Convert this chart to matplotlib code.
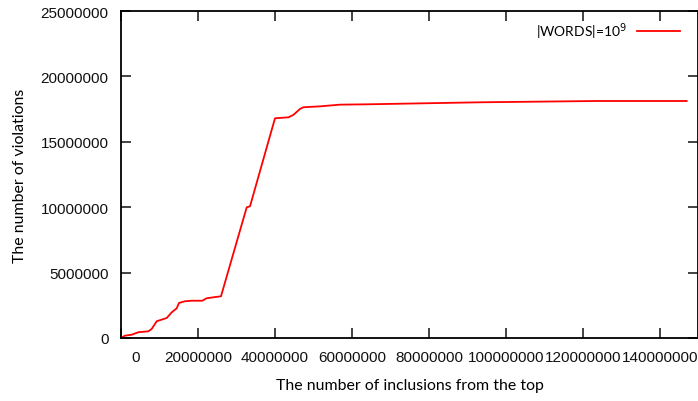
import matplotlib
matplotlib.use("Agg")
import matplotlib.pyplot as plt
import matplotlib.transforms as mtransforms
from matplotlib.ticker import FixedLocator

# values
inclusions = [0, 1.04e6, 2.78e6, 4.49e6, 7.09e6, 7.97e6, 9.27e6, 11.87e6, 13.17e6,
              14.47e6, 15.06e6, 16.62e6, 18.36e6, 21.12e6, 22.26e6, 25.97e6,
              32.65e6, 33.51e6, 40.0e6, 43.45e6, 44.75e6, 46.49e6, 47.35e6,
              51.69e6, 56.88e6, 64.67e6, 93.25e6, 123.56e6, 146.93e6]
violations = [0, 0.18e6, 0.25e6, 0.44e6, 0.51e6, 0.69e6, 1.28e6, 1.53e6, 1.96e6,
              2.27e6, 2.68e6, 2.81e6, 2.85e6, 2.85e6, 3.04e6, 3.19e6,
              9.99e6, 10.07e6, 16.80e6, 16.87e6, 17.05e6, 17.51e6, 17.64e6,
              17.71e6, 17.84e6, 17.87e6, 18.02e6, 18.12e6, 18.12e6]
xticks = [0, 20000000, 40000000, 60000000, 80000000, 100000000, 120000000, 140000000]
yticks = [0, 5000000, 10000000, 15000000, 20000000, 25000000]

fig = plt.figure(figsize=(6.98, 4.02), dpi=100)
ax = fig.add_axes([121 / 698, 63 / 402, 577.5 / 698, 327 / 402])

ax.plot(inclusions, violations, color="#ff0000", lw=1.3, label="|WORDS|=10$^9$")
ax.set_xlim(0, 150000000)
ax.set_ylim(0, 25000000)

ax.xaxis.set_major_locator(FixedLocator(xticks))
ax.yaxis.set_major_locator(FixedLocator(yticks))
ax.set_xticklabels([str(v) for v in xticks], fontsize=11, family="Liberation Sans")
ax.set_yticklabels([str(v) for v in yticks], fontsize=11, family="Liberation Sans")
ax.tick_params(direction="in", length=7, width=1.2, top=True, right=True,
               colors="#222222", labelcolor="#111111")
ax.tick_params(axis="x", pad=9)
ax.tick_params(axis="y", pad=9)
for s in ax.spines.values():
    s.set_linewidth(1.3)

# gnuplot put the "0" label off to the right of its tick
lbl0 = ax.get_xticklabels()[0]
lbl0.set_transform(lbl0.get_transform() + mtransforms.ScaledTranslation(15 / 100, 0, fig.dpi_scale_trans))

ax.set_xlabel("The number of inclusions from the top", fontsize=11.4, family="Lato",
              labelpad=10)
ax.set_ylabel("The number of violations", fontsize=11.4, family="Lato", labelpad=10)

leg = ax.legend(loc="upper right", frameon=False, handlelength=3.1, handletextpad=0.7,
                markerfirst=False, prop={"family": "Lato", "size": 10},
                bbox_to_anchor=(0.985, 1.0), borderaxespad=0.3)

fig.savefig("out.png", dpi=100)
